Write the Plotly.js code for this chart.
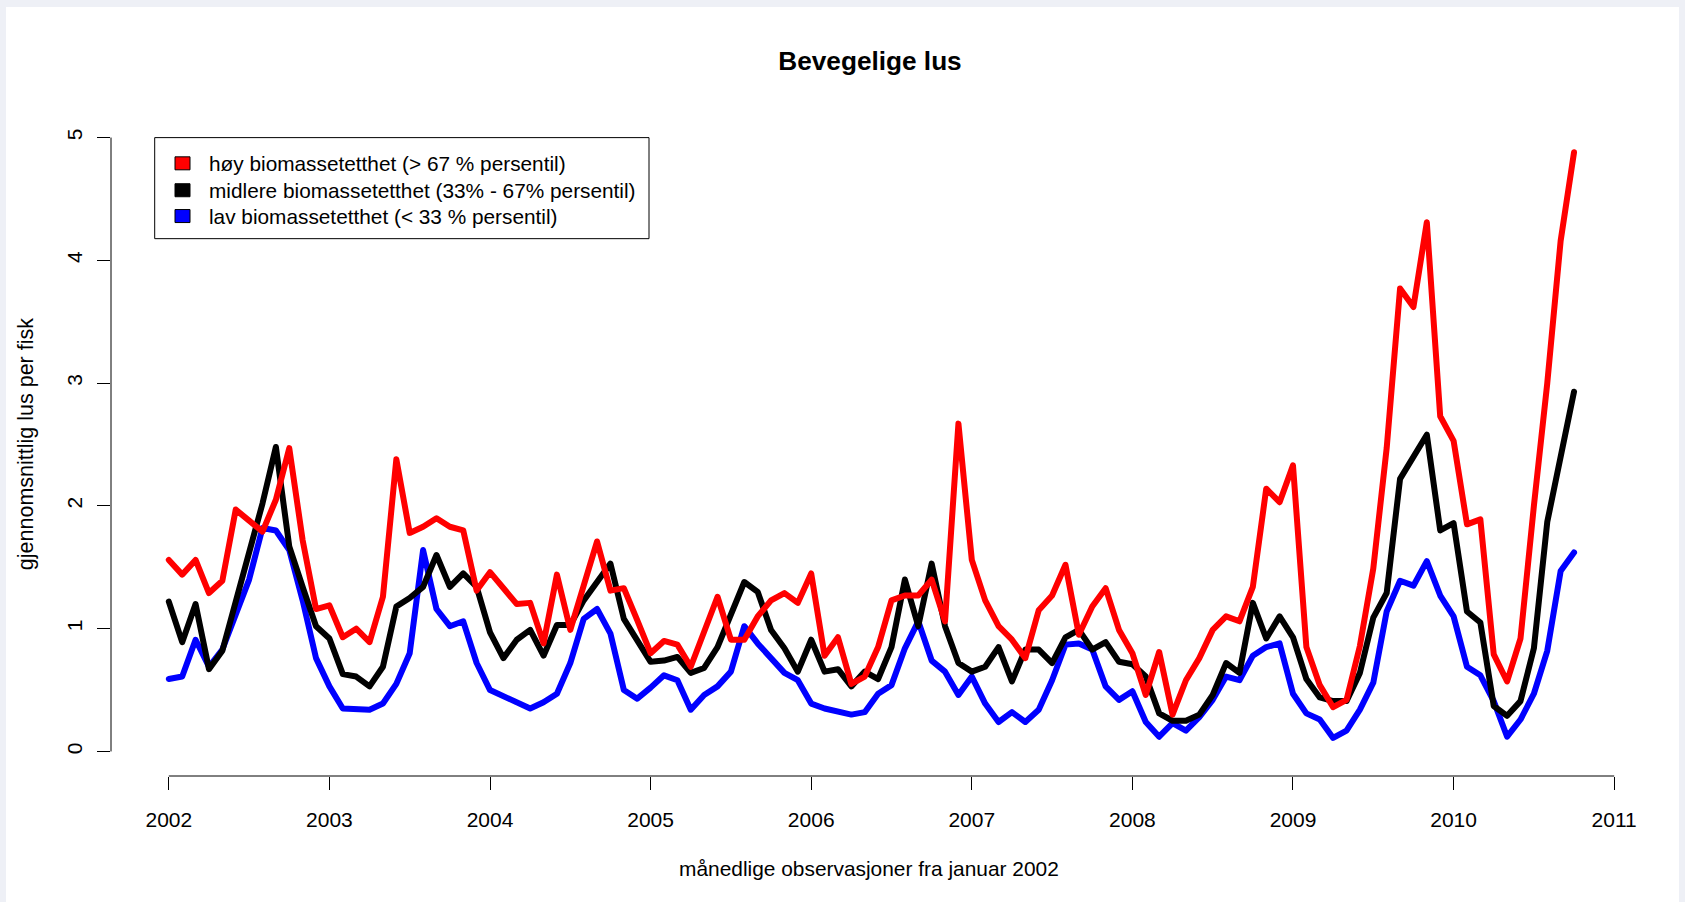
<!DOCTYPE html>
<html>
<head>
<meta charset="utf-8">
<script src="https://cdn.plot.ly/plotly-3.0.1.min.js"></script>
<style>
  html, body { margin: 0; padding: 0; background: #eef0f6; }
  #frame { position: absolute; left: 6px; top: 7px; width: 1673px; height: 895px; background: #ffffff; }
  #chart { position: absolute; left: 0; top: 0; width: 1685px; height: 902px; }
  .js-line { stroke-linejoin: round !important; stroke-linecap: round !important; }
</style>
</head>
<body>
<div id="frame"></div>
<div id="chart"></div>
<script>
// Monthly observations from January 2002 to October 2010
const startYear = 2002;
const tickYears = [2002, 2003, 2004, 2005, 2006, 2007, 2008, 2009, 2010, 2011];
const yTicks = [0, 1, 2, 3, 4, 5];

const seriesNames = [
  "høy biomassetetthet (> 67 % persentil)",
  "midlere biomassetetthet (33% - 67% persentil)",
  "lav biomassetetthet (< 33 % persentil)"
];
const seriesColors = ["#ff0000", "#000000", "#0000ff"];

// høy biomassetetthet
const hoy = [
  1.56, 1.44, 1.56, 1.29, 1.39, 1.97, 1.88, 1.79, 2.05, 2.47, 1.72, 1.16,
  1.19, 0.93, 1.00, 0.89, 1.26, 2.38, 1.78, 1.83, 1.90, 1.83, 1.80, 1.31,
  1.46, 1.33, 1.20, 1.21, 0.88, 1.44, 0.99, 1.35, 1.71, 1.31, 1.33, 1.07,
  0.80, 0.90, 0.87, 0.69, 0.97, 1.26, 0.91, 0.91, 1.10, 1.23, 1.29, 1.21,
  1.45, 0.78, 0.93, 0.55, 0.61, 0.85, 1.23, 1.27, 1.27, 1.40, 1.06, 2.67,
  1.56, 1.23, 1.02, 0.91, 0.76, 1.15, 1.27, 1.52, 0.95, 1.18, 1.33, 0.99,
  0.80, 0.46, 0.81, 0.30, 0.58, 0.76, 0.99, 1.10, 1.06, 1.34, 2.14, 2.03,
  2.33, 0.85, 0.54, 0.36, 0.42, 0.86, 1.49, 2.47, 3.77, 3.62, 4.31, 2.73,
  2.53, 1.85, 1.89, 0.79, 0.57, 0.92, 2.00, 3.00, 4.16, 4.88
];
// midlere biomassetetthet
const midlere = [
  1.22, 0.89, 1.20, 0.67, 0.82, 1.23, 1.64, 2.02, 2.48, 1.67, 1.34, 1.02,
  0.92, 0.63, 0.61, 0.53, 0.69, 1.18, 1.25, 1.34, 1.60, 1.34, 1.45, 1.34,
  0.97, 0.76, 0.91, 0.99, 0.78, 1.03, 1.03, 1.23, 1.38, 1.53, 1.08, 0.91,
  0.73, 0.74, 0.77, 0.64, 0.68, 0.85, 1.12, 1.38, 1.30, 0.99, 0.84, 0.65,
  0.91, 0.65, 0.67, 0.53, 0.65, 0.59, 0.85, 1.40, 1.02, 1.53, 1.02, 0.72,
  0.65, 0.69, 0.85, 0.57, 0.83, 0.83, 0.72, 0.93, 0.99, 0.83, 0.89, 0.73,
  0.71, 0.61, 0.31, 0.25, 0.25, 0.30, 0.46, 0.72, 0.64, 1.21, 0.92, 1.10,
  0.93, 0.59, 0.44, 0.41, 0.41, 0.64, 1.09, 1.29, 2.22, 2.40, 2.58, 1.80,
  1.86, 1.14, 1.05, 0.37, 0.29, 0.41, 0.84, 1.87, 2.40, 2.93
];
// lav biomassetetthet
const lav = [
  0.59, 0.61, 0.91, 0.69, 0.83, 1.10, 1.40, 1.82, 1.80, 1.64, 1.23, 0.76,
  0.53, 0.35, 0.34, 0.34, 0.39, 0.55, 0.80, 1.64, 1.16, 1.02, 1.06, 0.72,
  0.50, 0.45, 0.39, 0.35, 0.40, 0.47, 0.72, 1.08, 1.16, 0.96, 0.50, 0.43,
  0.52, 0.62, 0.58, 0.34, 0.46, 0.53, 0.65, 1.02, 0.88, 0.76, 0.64, 0.58,
  0.39, 0.35, 0.32, 0.30, 0.32, 0.47, 0.54, 0.84, 1.06, 0.74, 0.65, 0.46,
  0.61, 0.39, 0.24, 0.32, 0.24, 0.34, 0.58, 0.87, 0.88, 0.83, 0.53, 0.42,
  0.49, 0.24, 0.12, 0.23, 0.17, 0.28, 0.42, 0.61, 0.58, 0.78, 0.85, 0.88,
  0.47, 0.31, 0.26, 0.11, 0.17, 0.34, 0.56, 1.14, 1.39, 1.35, 1.55, 1.27,
  1.10, 0.69, 0.62, 0.41, 0.12, 0.26, 0.47, 0.82, 1.47, 1.62
];

const monthX = hoy.map((_, i) => startYear + i / 12);

const FONT = "Liberation Sans, Arial, Helvetica, sans-serif";
const PL = 111, PR = 1672, PT = 113, PB = 775.7;
const W = 1685, H = 902;
const px2paperX = p => (p - PL) / (PR - PL);
const px2paperY = p => (PB - p) / (PB - PT);

function lineTrace(y, color) {
  return {
    x: monthX, y: y, type: "scatter", mode: "lines",
    line: { color: color, width: 6 },
    showlegend: false, hoverinfo: "skip"
  };
}

const data = [
  lineTrace(lav, seriesColors[2]),
  lineTrace(midlere, seriesColors[1]),
  lineTrace(hoy, seriesColors[0])
];

const shapes = [
  // R-style detached axis lines
  { type: "line", xref: "x", yref: "paper", x0: tickYears[0], x1: tickYears[tickYears.length - 1], y0: 0, y1: 0,
    line: { color: "#000", width: 1 } },
  { type: "line", xref: "paper", yref: "y", x0: 0, x1: 0, y0: yTicks[0], y1: yTicks[yTicks.length - 1],
    line: { color: "#000", width: 1 } },
  // legend box
  { type: "rect", xref: "paper", yref: "paper",
    x0: px2paperX(154.7), x1: px2paperX(649), y0: px2paperY(137.6), y1: px2paperY(238.6),
    line: { color: "#000", width: 1 }, fillcolor: "rgba(255,255,255,0)" }
];

const annotations = [];
const rowY = [163.3, 190.2, 216.0];
seriesNames.forEach((name, k) => {
  shapes.push({ type: "rect", xref: "paper", yref: "paper",
    x0: px2paperX(175), x1: px2paperX(190), y0: px2paperY(rowY[k] + 6.5), y1: px2paperY(rowY[k] - 6.5),
    line: { color: "#000", width: 1 }, fillcolor: seriesColors[k] });
  annotations.push({ xref: "paper", yref: "paper", x: px2paperX(207), y: px2paperY(rowY[k]),
    xanchor: "left", yanchor: "middle", showarrow: false, text: name,
    font: { family: FONT, size: 20.8, color: "#000" } });
});

// axis titles
annotations.push({ xref: "paper", yref: "paper", x: px2paperX(869), y: px2paperY(868),
  xanchor: "center", yanchor: "middle", showarrow: false,
  text: "månedlige observasjoner fra januar 2002",
  font: { family: FONT, size: 20.9, color: "#000" } });
annotations.push({ xref: "paper", yref: "paper", x: px2paperX(26), y: px2paperY(444),
  xanchor: "center", yanchor: "middle", showarrow: false, textangle: -90,
  text: "gjennomsnittlig lus per fisk",
  font: { family: FONT, size: 21.5, color: "#000" } });

const layout = {
  width: W, height: H,
  margin: { l: PL, r: W - PR, t: PT, b: H - PB, pad: 0 },
  paper_bgcolor: "rgba(0,0,0,0)",
  plot_bgcolor: "rgba(0,0,0,0)",
  font: { family: FONT, size: 21, color: "#000" },
  title: {
    text: "<b>Bevegelige lus</b>",
    font: { family: FONT, size: 26.2, color: "#000" },
    xref: "container", yref: "container",
    x: 870 / W, y: 1 - 61 / H, xanchor: "center", yanchor: "middle"
  },
  xaxis: {
    range: [2001.64, 2011.36], tickmode: "array", tickvals: tickYears,
    ticktext: tickYears.map(String),
    showgrid: false, zeroline: false, showline: false,
    ticks: "outside", ticklen: 13, tickwidth: 1, tickcolor: "#000",
    tickfont: { family: FONT, size: 21, color: "#000" },
    ticklabelstandoff: 12, fixedrange: true
  },
  yaxis: {
    range: [-0.2, 5.2], tickmode: "array", tickvals: yTicks,
    ticktext: yTicks.map(String), tickangle: -90,
    showgrid: false, zeroline: false, showline: false,
    ticks: "outside", ticklen: 13, tickwidth: 1, tickcolor: "#000",
    tickfont: { family: FONT, size: 21, color: "#000" },
    ticklabelstandoff: 7, fixedrange: true
  },
  shapes: shapes,
  annotations: annotations,
  showlegend: false
};

Plotly.newPlot("chart", data, layout, { staticPlot: true, displayModeBar: false });
</script>
</body>
</html>
